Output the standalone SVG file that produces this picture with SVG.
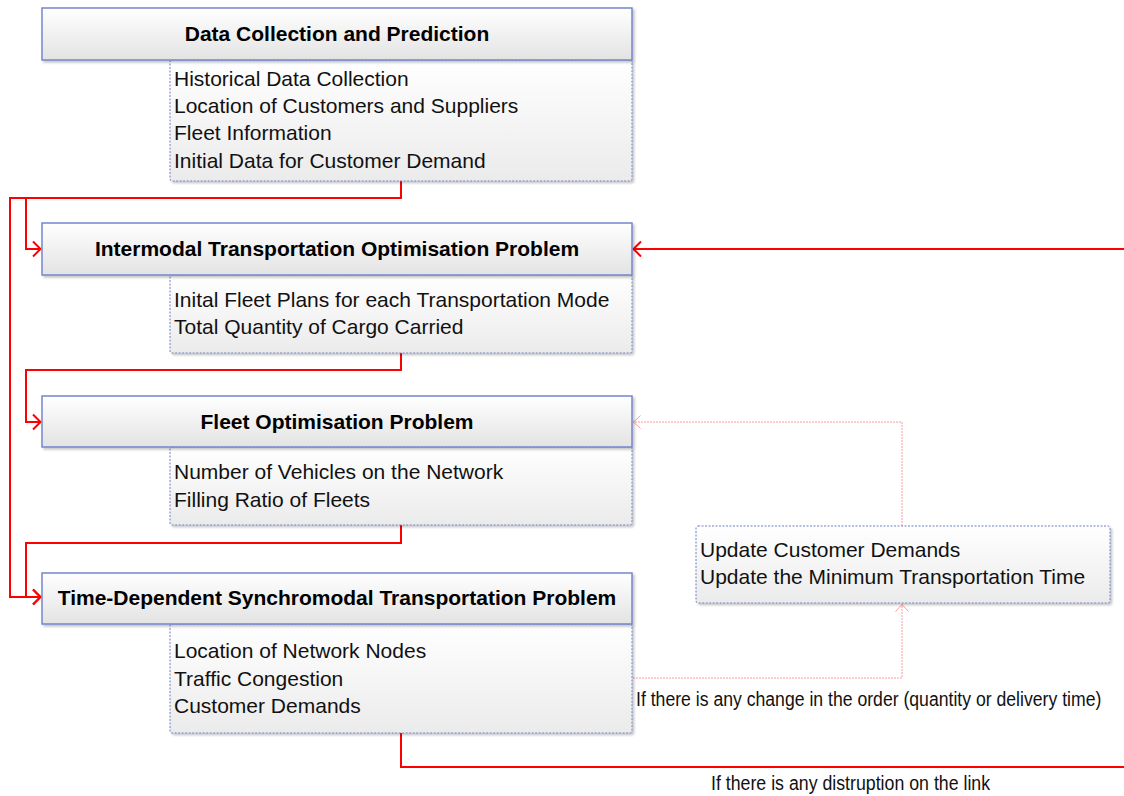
<svg xmlns="http://www.w3.org/2000/svg" width="1124" height="796" viewBox="0 0 1124 796">
  <style>
    .hdr { fill: url(#hdrFill); stroke: #7586cc; stroke-width: 1.5; filter: url(#shadow); }
    .det { fill: url(#detFill); stroke: #6f7fc4; stroke-width: 1; stroke-dasharray: 2 1.5; filter: url(#shadow); }
    .title { font-family: "Liberation Sans", Arial, sans-serif; font-size: 21px; font-weight: bold; fill: #000; text-anchor: middle; }
    .item { font-family: "Liberation Sans", Arial, sans-serif; font-size: 21px; fill: #111; }
    .lbl { font-family: "Liberation Sans", Arial, sans-serif; font-size: 21px; fill: #111; }
    .flow { fill: none; stroke: #ff0000; stroke-width: 2; }
    .feedback { fill: none; stroke: #ff9a9a; stroke-width: 1; stroke-dasharray: 2 1; }
  </style>
  <defs>
    <linearGradient id="hdrFill" x1="0" y1="0" x2="0" y2="1">
      <stop offset="0" stop-color="#ffffff"/>
      <stop offset="1" stop-color="#e3e3e3"/>
    </linearGradient>
    <linearGradient id="detFill" x1="0" y1="0" x2="0" y2="1">
      <stop offset="0" stop-color="#ffffff"/>
      <stop offset="1" stop-color="#ebebeb"/>
    </linearGradient>
    <filter id="shadow" x="-5%" y="-10%" width="115%" height="130%">
      <feDropShadow dx="2" dy="2" stdDeviation="1.2" flood-color="#000" flood-opacity="0.22"/>
    </filter>
    <marker id="arrRed" viewBox="0 0 12 18" markerWidth="12" markerHeight="18" refX="9.5" refY="9" orient="auto" markerUnits="userSpaceOnUse">
      <path d="M1.5,1.5 L9,9 L1.5,16.5" fill="none" stroke="#ff0000" stroke-width="2"/>
    </marker>
    <marker id="arrPink" viewBox="0 0 12 16" markerWidth="12" markerHeight="16" refX="9.5" refY="8" orient="auto" markerUnits="userSpaceOnUse">
      <path d="M2,1.5 L9,8 L2,14.5" fill="none" stroke="#ff9a9a" stroke-width="1"/>
    </marker>
  </defs>

  <rect width="1124" height="796" fill="#ffffff"/>

  <!-- connectors -->
  <g id="connectors">
    <path class="flow" d="M401,181 V198 H10 V597 H41" marker-end="url(#arrRed)"/>
    <path class="flow" d="M26,198 V249 H41" marker-end="url(#arrRed)"/>
    <path class="flow" d="M401,353 V370 H26 V422 H41" marker-end="url(#arrRed)"/>
    <path class="flow" d="M401,525 V543 H26 V597 H41" marker-end="url(#arrRed)"/>
    <path class="flow" d="M401,733 V767 H1124"/>
    <path class="flow" d="M1124,249 H633" marker-end="url(#arrRed)"/>
    <path class="feedback" d="M633,678 H902 V604" marker-end="url(#arrPink)"/>
    <path class="feedback" d="M902,526 V422 H633" marker-end="url(#arrPink)"/>
  </g>

  <!-- stage 1 -->
  <g id="data-collection">
    <rect class="det" x="170" y="60" width="462" height="121" rx="2"/>
    <rect class="hdr" x="42" y="8" width="590" height="52"/>
    <text class="title" x="337" y="41">Data Collection and Prediction</text>
    <text class="item" x="174" y="86">Historical Data Collection</text>
    <text class="item" x="174" y="113">Location of Customers and Suppliers</text>
    <text class="item" x="174" y="140">Fleet Information</text>
    <text class="item" x="174" y="168">Initial Data for Customer Demand</text>
  </g>

  <!-- stage 2 -->
  <g id="intermodal">
    <rect class="det" x="170" y="275" width="462" height="78" rx="2"/>
    <rect class="hdr" x="42" y="223" width="590" height="52"/>
    <text class="title" x="337" y="256">Intermodal Transportation Optimisation Problem</text>
    <text class="item" x="174" y="307">Inital Fleet Plans for each Transportation Mode</text>
    <text class="item" x="174" y="334">Total Quantity of Cargo Carried</text>
  </g>

  <!-- stage 3 -->
  <g id="fleet">
    <rect class="det" x="170" y="447" width="462" height="78" rx="2"/>
    <rect class="hdr" x="42" y="396" width="590" height="51"/>
    <text class="title" x="337" y="429">Fleet Optimisation Problem</text>
    <text class="item" x="174" y="479">Number of Vehicles on the Network</text>
    <text class="item" x="174" y="507">Filling Ratio of Fleets</text>
  </g>

  <!-- stage 4 -->
  <g id="synchromodal">
    <rect class="det" x="170" y="624" width="462" height="109" rx="2"/>
    <rect class="hdr" x="42" y="573" width="590" height="51"/>
    <text class="title" x="337" y="605">Time-Dependent Synchromodal Transportation Problem</text>
    <text class="item" x="174" y="658">Location of Network Nodes</text>
    <text class="item" x="174" y="686">Traffic Congestion</text>
    <text class="item" x="174" y="713">Customer Demands</text>
  </g>

  <!-- update step -->
  <g id="update">
    <rect class="det" x="696" y="526" width="414" height="77" rx="2"/>
    <text class="item" x="700" y="557">Update Customer Demands</text>
    <text class="item" x="700" y="584">Update the Minimum Transportation Time</text>
  </g>

  <!-- condition labels -->
  <g id="labels">
    <text class="lbl" transform="translate(636,706) scale(0.84,1)">If there is any change in the order (quantity or delivery time)</text>
    <text class="lbl" transform="translate(711,790) scale(0.845,1)">If there is any distruption on the link</text>
  </g>
</svg>
